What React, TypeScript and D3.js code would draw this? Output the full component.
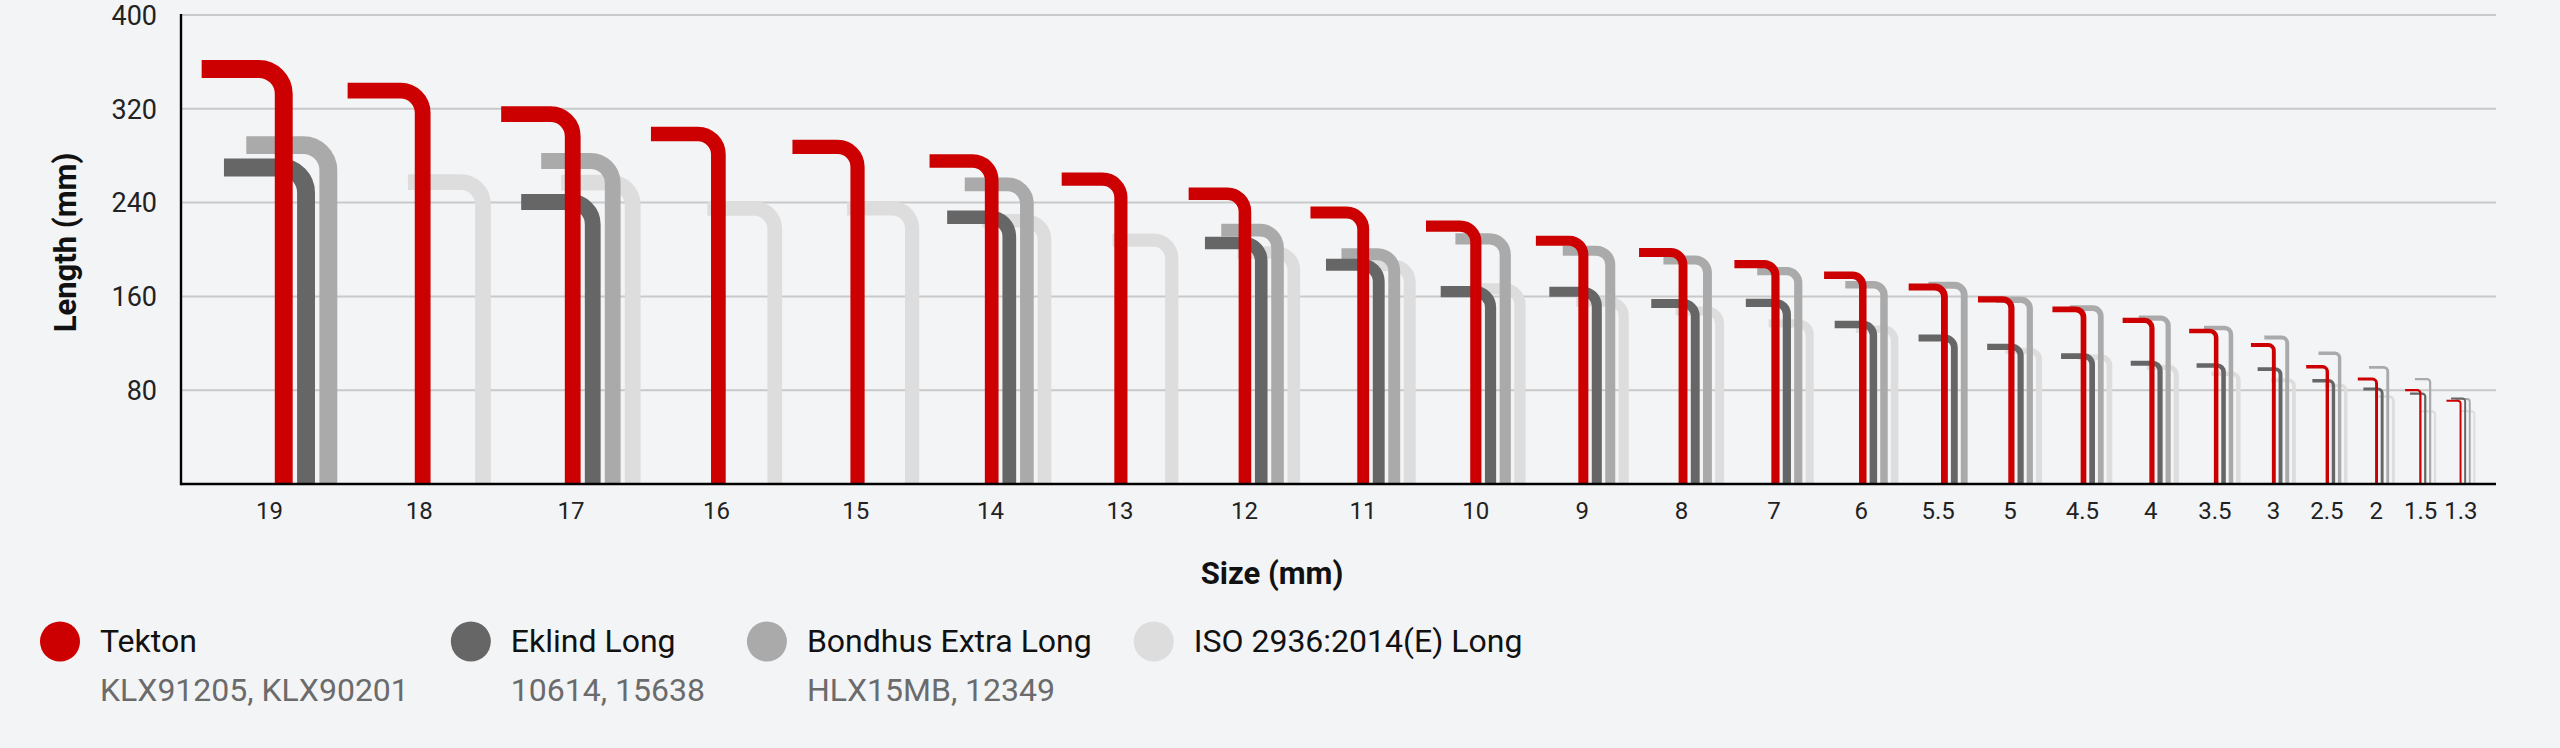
import { useEffect, useRef } from 'react';
import * as d3 from 'd3';

// hex key sizes (mm), largest first
const sizes = ['19', '18', '17', '16', '15', '14', '13', '12', '11', '10', '9', '8', '7', '6', '5.5', '5', '4.5', '4', '3.5', '3', '2.5', '2', '1.5', '1.3'];
// short arm length per size (mm)
const shortArm = [70, 64, 61, 57.5, 55.5, 53, 50.5, 48, 45, 42.5, 40.5, 37.5, 35, 33, 30.5, 28.5, 26.5, 25, 23, 19.5, 18, 16, 13, 12];

// long arm length (mm), null = not made in that size
const tekton = [354, 335.5, 315.5, 298.5, 287.5, 275.5, 260, 247.5, 231.5, 220, 207.5, 197.5, 187.5, 178, 168, 157.5, 149, 139.5, 130.5, 118.5, 100, 89.5, 80, 71];
const eklind = [270, null, 240.5, null, null, 227.5, null, 205.5, 187, 164, 164, 154, 154.5, 136, 124.5, 117, 109, 103, 101, 98, 88, 81, 77, 73];
const bondhus = [289, null, 275.5, null, null, 255.5, null, 216.5, 196, 209, 199, 191, 181.5, 170, 169.5, 157, 150, 141.5, 133, 125, 111.5, 99.5, 89.5, 72.5];
const iso = [null, 257.5, 257, 235, 235, 224.5, 208, 197.5, 186.5, 166.5, 155.5, 147.5, 137, 132, null, 113.5, 108, 99.5, 94, 88.5, 84, 74.5, 62, 62];

const brandNames = ['Tekton', 'Eklind Long', 'Bondhus Extra Long', 'ISO 2936:2014(E) Long'];
const brandCodes = ['KLX91205, KLX90201', '10614, 15638', 'HLX15MB, 12349', ''];
const yTicks = [80, 160, 240, 320, 400];

const brandColors = ['#cc0000', '#666666', '#aaaaaa', '#dddddd'];

export default function App() {
  const svgRef = useRef<SVGSVGElement | null>(null);

  useEffect(() => {
    if (!svgRef.current) return;
    const svg = d3.select(svgRef.current);
    svg.selectAll('*').remove();

    const width = 2560;
    const height = 748;
    const margin = { top: 15, right: 64, bottom: 264, left: 181 };
    const font = 'Roboto, sans-serif';
    const series = [tekton, eklind, bondhus, iso];

    const y = d3.scaleLinear().domain([0, 400]).range([height - margin.bottom, margin.top]);
    const mm = (v: number) => y(0) - y(v);
    // spacing between keys of one size (px), grows with the key size
    const pitchScale = d3
      .scaleLinear()
      .domain([1.3, 2, 3, 4, 5, 6, 8, 10, 12, 14, 16, 17, 18, 19])
      .range([4.6, 5.6, 6.7, 8.1, 9.2, 10.6, 12.2, 14.7, 16.3, 17.6, 18.8, 20.0, 20.1, 22.3]);

    const groups = sizes.map((s, i) => {
      const pitch = pitchScale(+s);
      const stroke = pitch - (2.5 + 0.1 * +s);
      const arm = mm(shortArm[i]);
      const present = series.map((v, b) => (v[i] == null ? -1 : b)).filter((b) => b >= 0);
      const first = present[0];
      const last = present[present.length - 1];
      const w = arm + (last - first) * pitch + stroke / 2;
      return { size: s, i, stroke, pitch, arm, first, w };
    });

    const plotW = width - margin.left - margin.right;
    const gap = (plotW - d3.sum(groups, (g) => g.w)) / (groups.length + 3);
    let cursor = margin.left + 2 * gap;
    const lefts = groups.map((g) => {
      const l = cursor;
      cursor += g.w + gap;
      return l;
    });
    const x = d3.scaleOrdinal<string, number>().domain(sizes).range(lefts);

    // grid
    svg
      .append('g')
      .selectAll('line')
      .data(yTicks)
      .join('line')
      .attr('x1', margin.left)
      .attr('x2', width - margin.right)
      .attr('y1', (d) => y(d))
      .attr('y2', (d) => y(d))
      .attr('stroke', '#c9c9c9')
      .attr('stroke-width', 2);

    // keys, ISO at the back, Tekton in front
    const keys = svg.append('g');
    [3, 2, 1, 0].forEach((b) => {
      groups.forEach((g) => {
        const v = series[b][g.i];
        if (v == null) return;
        const vx = x(g.size) + g.arm + (b - g.first) * g.pitch;
        const yt = y(v);
        const r = Math.min(g.stroke * 1.4, g.arm * 0.6);
        const p = d3.path();
        p.moveTo(vx - g.arm, yt);
        p.arcTo(vx, yt, vx, y(0), r);
        p.lineTo(vx, y(0));
        keys
          .append('path')
          .attr('d', p.toString())
          .attr('fill', 'none')
          .attr('stroke', brandColors[b])
          .attr('stroke-width', g.stroke);
      });
    });

    // axes
    svg
      .append('line')
      .attr('x1', margin.left)
      .attr('x2', margin.left)
      .attr('y1', y(400) - 1)
      .attr('y2', y(0) + 1.3)
      .attr('stroke', '#000')
      .attr('stroke-width', 2.4);
    svg
      .append('line')
      .attr('x1', margin.left)
      .attr('x2', width - margin.right)
      .attr('y1', y(0))
      .attr('y2', y(0))
      .attr('stroke', '#000')
      .attr('stroke-width', 2.6);

    svg
      .append('g')
      .selectAll('text')
      .data(yTicks)
      .join('text')
      .attr('x', margin.left - 24)
      .attr('y', (d) => y(d))
      .attr('dy', '0.36em')
      .attr('text-anchor', 'end')
      .attr('font-family', font)
      .attr('font-size', 27)
      .attr('fill', '#222')
      .text((d) => d);

    svg
      .append('g')
      .selectAll('text')
      .data(groups)
      .join('text')
      .attr('x', (g) => x(g.size) + g.w / 2)
      .attr('y', 518.5)
      .attr('text-anchor', 'middle')
      .attr('font-family', font)
      .attr('font-size', 24)
      .attr('fill', '#222')
      .text((g) => g.size);

    svg
      .append('text')
      .attr('x', 1272)
      .attr('y', 584)
      .attr('text-anchor', 'middle')
      .attr('font-family', font)
      .attr('font-weight', 700)
      .attr('font-size', 31)
      .attr('fill', '#111')
      .text('Size (mm)');

    svg
      .append('text')
      .attr('transform', `translate(76,${(y(0) + y(400)) / 2 - 7}) rotate(-90)`)
      .attr('text-anchor', 'middle')
      .attr('font-family', font)
      .attr('font-weight', 700)
      .attr('font-size', 31)
      .attr('fill', '#111')
      .text('Length (mm)');

    // legend
    let lx = 60;
    brandNames.forEach((name, b) => {
      const item = svg.append('g');
      item.append('circle').attr('cx', lx).attr('cy', 641.5).attr('r', 20).attr('fill', brandColors[b]);
      const t1 = item
        .append('text')
        .attr('x', lx + 40)
        .attr('y', 652)
        .attr('font-family', font)
        .attr('font-size', 32)
        .attr('fill', '#111')
        .text(name);
      const t2 = item
        .append('text')
        .attr('x', lx + 40)
        .attr('y', 700.5)
        .attr('font-family', font)
        .attr('font-size', 32)
        .attr('fill', '#6b6b6b')
        .text(brandCodes[b]);
      const w = Math.max(t1.node()!.getComputedTextLength(), t2.node()!.getComputedTextLength());
      lx += 40 + w + 62;
    });
  }, []);

  return (
    <>
      <style>{`body{margin:0;background:#f3f4f6}`}</style>
      <svg ref={svgRef} width={2560} height={748} style={{ display: 'block', background: '#f3f4f6' }} />
    </>
  );
}
